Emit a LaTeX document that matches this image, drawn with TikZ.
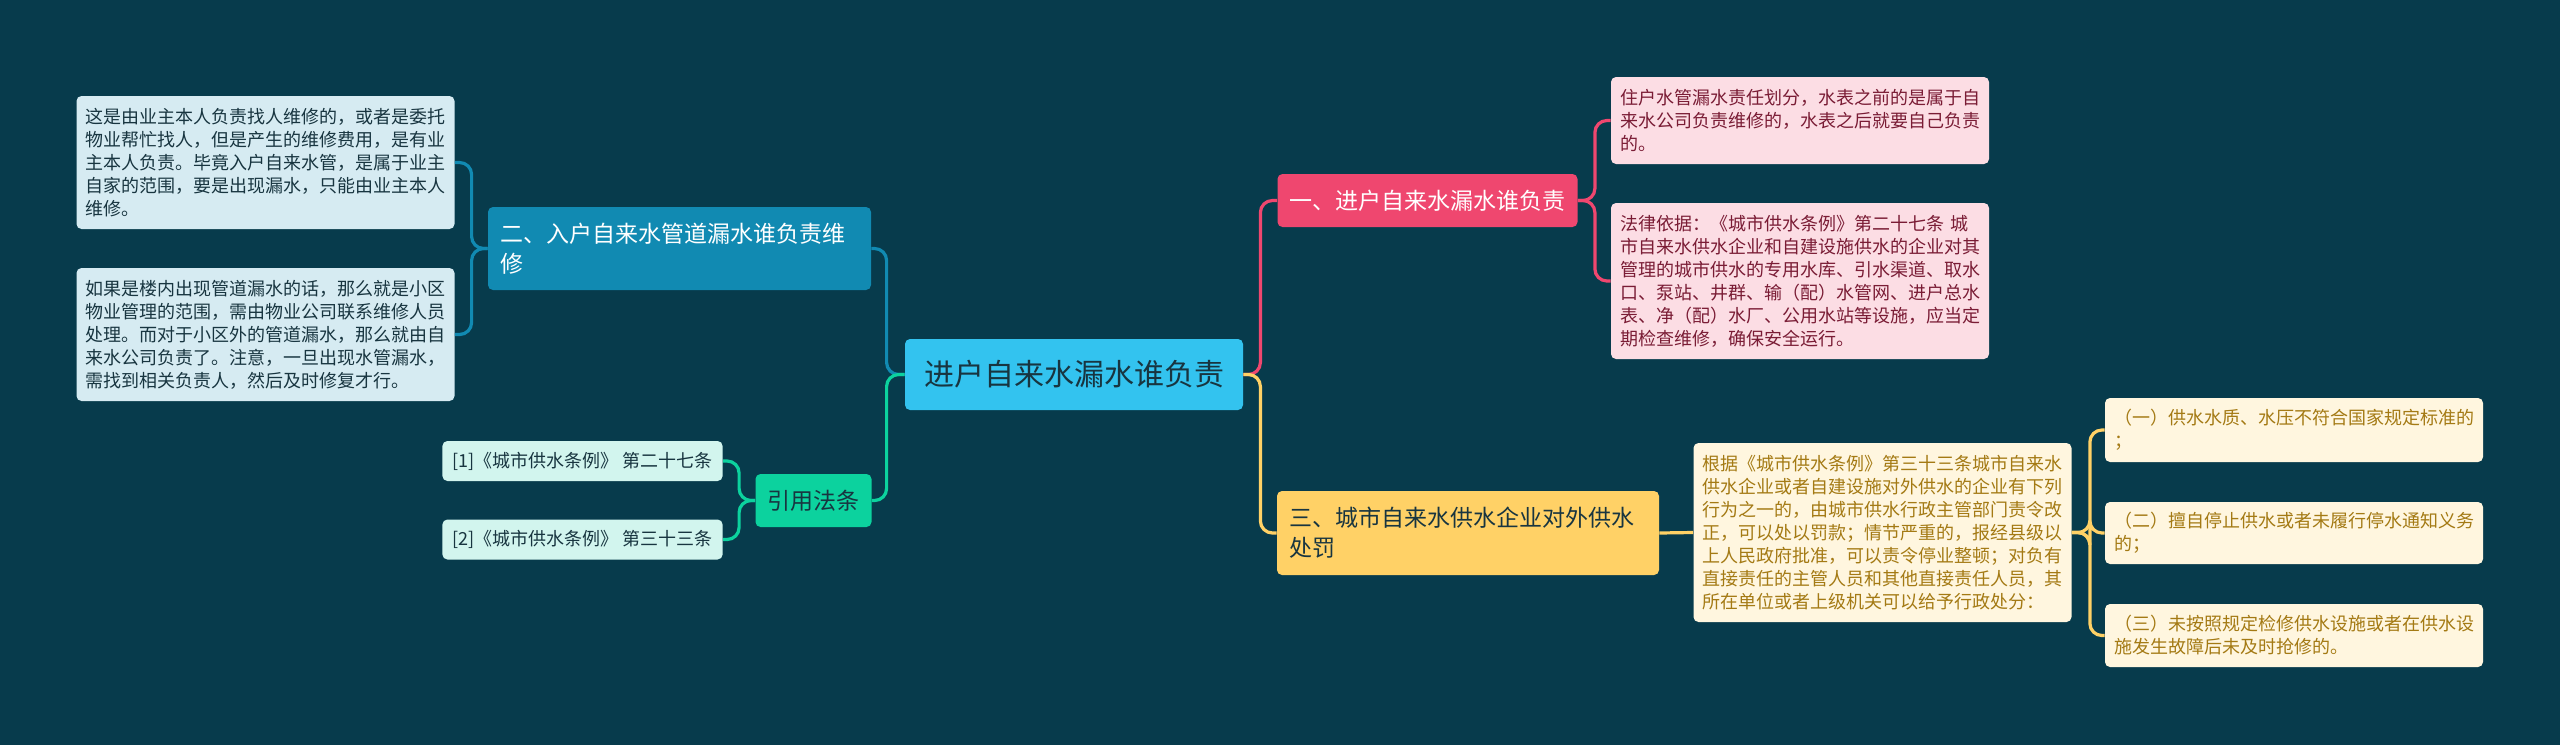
\documentclass[tikz,border=0pt]{standalone}
\usepackage{fontspec}
\usepackage{xcolor}
\usepackage{tikz}
\newfontfamily\cjk{Noto Sans CJK SC}
\definecolor{bgc}{HTML}{073B4C}
\definecolor{rootc}{HTML}{33C3EF}
\definecolor{bluec}{HTML}{118AB2}
\definecolor{blueleaf}{HTML}{D6EBF2}
\definecolor{greenc}{HTML}{0CD29E}
\definecolor{greenleaf}{HTML}{D2F5EE}
\definecolor{pinkc}{HTML}{EF476F}
\definecolor{pinkleaf}{HTML}{FCDDE4}
\definecolor{pinktext}{HTML}{7A1C35}
\definecolor{yellowc}{HTML}{FFD166}
\definecolor{yellowleaf}{HTML}{FFF6DF}
\definecolor{yellowtext}{HTML}{A47A14}
\definecolor{darktext}{HTML}{183540}

\begin{document}
\begin{tikzpicture}[
    x=0.5pt, y=-0.5pt,
    every node/.style={font=\cjk, rounded corners=2.5pt, inner ysep=0pt, align=left},
    topic/.style={fill=rootc, text=darktext, font=\cjk\fontsize{15pt}{18pt}\selectfont, minimum width=169pt, minimum height=35.5pt, align=center},
    branch/.style={font=\cjk\fontsize{11.5pt}{15pt}\selectfont, inner xsep=6pt},
    leaf/.style={font=\cjk\fontsize{9pt}{11.5pt}\selectfont, inner xsep=4.5pt, text width=180pt},
    refleaf/.style={font=\cjk\fontsize{9pt}{11.5pt}\selectfont, fill=greenleaf, text=darktext, inner xsep=5pt, minimum width=139.5pt, minimum height=20pt},
    link/.style={line width=1.6pt, rounded corners=6pt}
  ]
    \fill[bgc] (0,0) rectangle (2560,745);

    \node[topic] (root) at (1074,374.5) {进户自来水漏水谁负责};

    \node[branch, fill=bluec, text=white, text width=179.5pt, minimum height=41.5pt] (s2) at (679.5,248.5)
      {二、入户自来水管道漏水谁负责维\\修};
    \node[branch, fill=greenc, text=darktext, minimum width=57.5pt, minimum height=26.5pt, align=center] (cite) at (813.5,500.5) {引用法条};
    \node[branch, fill=pinkc, text=white, minimum width=149.5pt, minimum height=26.5pt] (s1) at (1427.5,200.5) {一、进户自来水漏水谁负责};
    \node[branch, fill=yellowc, text=darktext, text width=179pt, minimum height=42pt] (s3) at (1468,533)
      {三、城市自来水供水企业对外供水\\处罚};

    \node[leaf, fill=blueleaf, text=darktext, minimum height=66.5pt] (la) at (265.5,162.5)
      {这是由业主本人负责找人维修的，或者是委托\\物业帮忙找人，但是产生的维修费用，是有业\\主本人负责。毕竟入户自来水管，是属于业主\\自家的范围，要是出现漏水，只能由业主本人\\维修。};
    \node[leaf, fill=blueleaf, text=darktext, minimum height=66.5pt] (lb) at (265.5,334.5)
      {如果是楼内出现管道漏水的话，那么就是小区\\物业管理的范围，需由物业公司联系维修人员\\处理。而对于小区外的管道漏水，那么就由自\\来水公司负责了。注意，一旦出现水管漏水，\\需找到相关负责人，然后及时修复才行。};

    \node[refleaf] (c1) at (582.5,461) {[1]《城市供水条例》 第二十七条};
    \node[refleaf] (c2) at (582.5,539.5) {[2]《城市供水条例》 第三十三条};

    \node[leaf, fill=pinkleaf, text=pinktext, minimum height=43.5pt] (p1) at (1800,120.5)
      {住户水管漏水责任划分，水表之前的是属于自\\来水公司负责维修的，水表之后就要自己负责\\的。};
    \node[leaf, fill=pinkleaf, text=pinktext, minimum height=78pt] (p2) at (1800,281)
      {法律依据：《城市供水条例》第二十七条 城\\市自来水供水企业和自建设施供水的企业对其\\管理的城市供水的专用水库、引水渠道、取水\\口、泵站、井群、输（配）水管网、进户总水\\表、净（配）水厂、公用水站等设施，应当定\\期检查维修，确保安全运行。};

    \node[leaf, fill=yellowleaf, text=yellowtext, minimum height=89.5pt] (g) at (1882.5,532.5)
      {根据《城市供水条例》第三十三条城市自来水\\供水企业或者自建设施对外供水的企业有下列\\行为之一的，由城市供水行政主管部门责令改\\正，可以处以罚款；情节严重的，报经县级以\\上人民政府批准，可以责令停业整顿；对负有\\直接责任的主管人员和其他直接责任人员，其\\所在单位或者上级机关可以给予行政处分：};
    \node[leaf, fill=yellowleaf, text=yellowtext, minimum height=32pt] (y1) at (2294,430)
      {（一）供水水质、水压不符合国家规定标准的\\；};
    \node[leaf, fill=yellowleaf, text=yellowtext, minimum height=31pt] (y2) at (2294,533)
      {（二）擅自停止供水或者未履行停水通知义务\\的；};
    \node[leaf, fill=yellowleaf, text=yellowtext, minimum height=31.5pt] (y3) at (2294,635.5)
      {（三）未按照规定检修供水设施或者在供水设\\施发生故障后未及时抢修的。};

    \draw[link, bluec] (root.west) -- ++(-18,0) |- (s2.east);
    \draw[link, greenc] (root.west) -- ++(-18,0) |- (cite.east);
    \draw[link, pinkc] (root.east) -- ++(17,0) |- (s1.west);
    \draw[link, yellowc] (root.east) -- ++(17,0) |- (s3.west);

    \draw[link, bluec] (s2.west) -- ++(-16,0) |- (la.east);
    \draw[link, bluec] (s2.west) -- ++(-16,0) |- (lb.east);
    \draw[link, greenc] (cite.west) -- ++(-16,0) |- (c1.east);
    \draw[link, greenc] (cite.west) -- ++(-16,0) |- (c2.east);
    \draw[link, pinkc] (s1.east) -- ++(17,0) |- (p1.west);
    \draw[link, pinkc] (s1.east) -- ++(17,0) |- (p2.west);
    \draw[link, yellowc] (s3.east) -- (g.west);
    \draw[link, yellowc] (g.east) -- ++(18,0) |- (y1.west);
    \draw[link, yellowc] (g.east) -- ++(18,0) |- (y2.west);
    \draw[link, yellowc] (g.east) -- ++(18,0) |- (y3.west);
  \end{tikzpicture}
\end{document}
